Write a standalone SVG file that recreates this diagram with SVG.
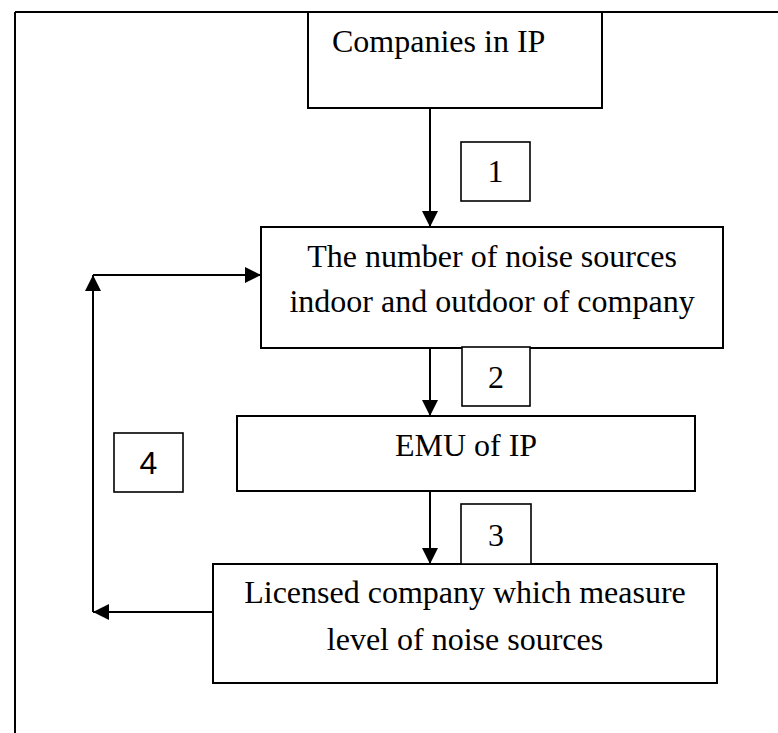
<svg xmlns="http://www.w3.org/2000/svg" width="778" height="733" viewBox="0 0 778 733">
  <style>
    .box { fill: #ffffff; stroke: #000000; stroke-width: 2; }
    .tag { fill: #ffffff; stroke: #000000; stroke-width: 1.6; }
    .txt { font-family: "Liberation Serif", "Times New Roman", serif; font-size: 32px; fill: #000000; }
    .num { font-family: "Liberation Serif", "Times New Roman", serif; font-size: 32px; fill: #000000; text-anchor: middle; }
    .line { fill: none; stroke: #000000; stroke-width: 2; }
  </style>
  <defs>
    <marker id="arrow" viewBox="0 0 16 16" refX="16" refY="8" markerWidth="16" markerHeight="16" markerUnits="userSpaceOnUse" orient="auto">
      <path d="M0,0 L16,8 L0,16 Z" fill="#000000"/>
    </marker>
  </defs>
  <rect width="778" height="733" fill="#ffffff"/>

  <!-- page frame: top rule and left rule -->
  <g id="frame">
    <path class="line" d="M15,12 H778 M15,12 V733"/>
  </g>

  <!-- connectors -->
  <g id="connectors">
    <path class="line" d="M430,108 V227" marker-end="url(#arrow)"/>
    <path class="line" d="M430,348 V416" marker-end="url(#arrow)"/>
    <path class="line" d="M430,491 V564" marker-end="url(#arrow)"/>
    <path class="line" d="M213,612 H93" marker-end="url(#arrow)"/>
    <path class="line" d="M93,612 V275" marker-end="url(#arrow)"/>
    <path class="line" d="M93,275 H261" marker-end="url(#arrow)"/>
  </g>

  <g id="companies">
    <rect class="box" x="308" y="12" width="294" height="96"/>
    <text class="txt" x="332" y="52">Companies in IP</text>
  </g>

  <g id="noise-sources">
    <rect class="box" x="261" y="227" width="462" height="121"/>
    <text class="txt" x="492" y="267" text-anchor="middle">The number of noise sources</text>
    <text class="txt" x="492" y="312" text-anchor="middle">indoor and outdoor of company</text>
  </g>

  <g id="emu">
    <rect class="box" x="237" y="416" width="458" height="75"/>
    <text class="txt" x="466" y="456" text-anchor="middle">EMU of IP</text>
  </g>

  <g id="licensed">
    <rect class="box" x="213" y="564" width="504" height="119"/>
    <text class="txt" x="465" y="603" text-anchor="middle">Licensed company which measure</text>
    <text class="txt" x="465" y="650" text-anchor="middle">level of noise sources</text>
  </g>

  <g id="step-1">
    <rect class="tag" x="461" y="142" width="69" height="59"/>
    <text class="num" x="495.5" y="182">1</text>
  </g>
  <g id="step-2">
    <rect class="tag" x="462" y="347" width="68" height="59"/>
    <text class="num" x="496" y="388">2</text>
  </g>
  <g id="step-3">
    <rect class="tag" x="461" y="504" width="70" height="60"/>
    <text class="num" x="496" y="546">3</text>
  </g>
  <g id="step-4">
    <rect class="tag" x="114" y="433" width="69" height="59"/>
    <text class="num" x="148.5" y="474" style="font-family: 'Liberation Sans', Arial, sans-serif; font-size: 32px;">4</text>
  </g>
</svg>
